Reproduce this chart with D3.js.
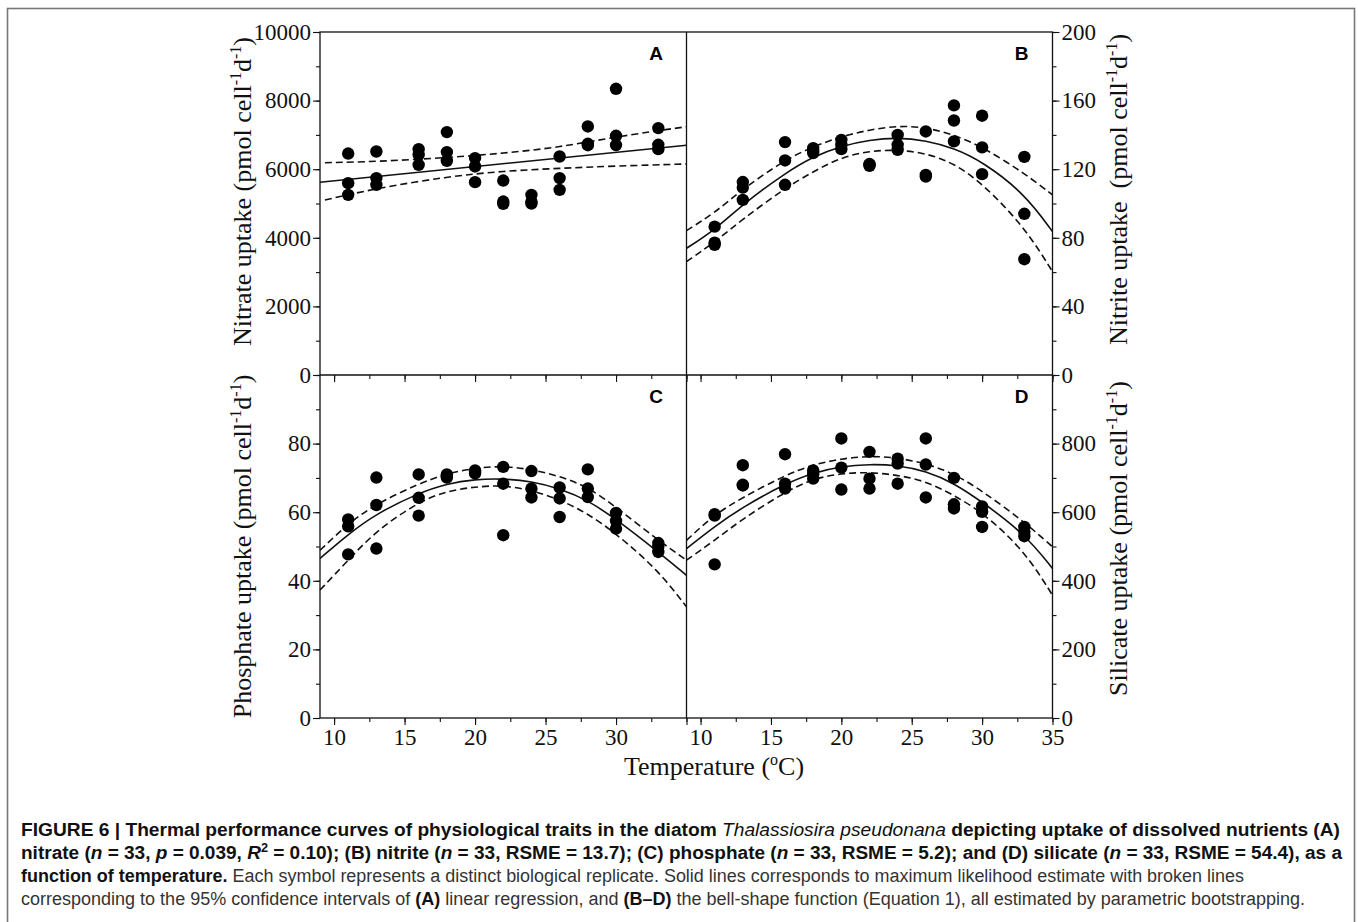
<!DOCTYPE html>
<html>
<head>
<meta charset="utf-8">
<script src="https://cdnjs.cloudflare.com/ajax/libs/d3/7.8.5/d3.min.js"></script>
<style>
    body { margin: 0; background: #fff; }
    svg { display: block; }
</style>
</head>
<body>
<div id="chart-area"></div>
<script>
// culture temperatures (oC), three replicates each
const temps = [11, 13, 16, 18, 20, 22, 24, 26, 28, 30, 33];

// replicate uptake values, one triple per temperature
const nitrate = [[6457, 5594, 5252], [6516, 5740, 5544], [6585, 6420, 6128], [7082, 6498, 6244],
    [6323, 6079, 5622], [5670, 5057, 4990], [5252, 5057, 5000], [6370, 5740, 5398],
    [7246, 6740, 6700], [8345, 6974, 6703], [7198, 6711, 6585]];
const nitrite = [[86.5, 77.2, 75.9], [112.5, 109.3, 102.1], [135.8, 125.1, 110.9], [132.3, 130.9, 129.4],
    [137.1, 134.2, 131.7], [122.6, 122.0, 123.0], [140.0, 134.2, 131.3], [142.0, 116.7, 115.7],
    [157.2, 148.4, 136.2], [151.2, 132.7, 117.1], [127.2, 94.0, 67.5]];
const phosphate = [[57.9, 55.9, 47.7], [70.1, 62.1, 49.4], [71.0, 64.2, 59.0], [71.0, 70.1, 70.5],
    [72.2, 71.3, 71.7], [73.2, 68.3, 53.3], [72.0, 66.9, 64.3], [67.2, 64.0, 58.6],
    [72.5, 66.9, 64.4], [59.8, 57.5, 55.2], [51.0, 49.9, 48.4]];
const silicate = [[594, 448, 590], [737, 678, 680], [769, 683, 669], [722, 711, 698],
    [815, 730, 666], [776, 698, 669], [756, 742, 683], [815, 739, 643],
    [700, 623, 611], [617, 601, 557], [557, 543, 530]];

// fitted lines
const nitrateFitTemps = [9, 35];
const nitrateFit = [5620, 6700];
const nitrateCiTemps = [9.35, 13, 18, 22, 26, 30, 35];
const nitrateUpper = [6190, 6220, 6336, 6463, 6638, 6948, 7239];
const nitrateLower = [5102, 5443, 5781, 5948, 6026, 6093, 6152];

const fitTemps = [9, 11, 13, 16, 18, 20, 22, 24, 26, 28, 30, 33, 35];
const nitriteFit = [73.9, 84.5, 99.6, 117.7, 127.4, 133.6, 137.1, 138.5, 136.7, 132.3, 124.5, 106, 83.6];
const nitriteUpper = [84.2, 94.5, 108.5, 125.5, 133.2, 139.1, 143, 145.3, 144.5, 140, 133.2, 117.7, 105];
const nitriteLower = [66.1, 77.5, 90.9, 109, 118.6, 127, 130.7, 131.3, 129.4, 123.5, 111.9, 86.5, 60.3];
const phosphateFit = [46.5, 53.6, 59.6, 65.6, 68.3, 69.6, 69.8, 69, 66.9, 63.5, 58, 48.4, 41.6];
const phosphateUpper = [48.9, 56.7, 62.5, 68.3, 71.3, 72.9, 73.5, 72.5, 70.5, 67.4, 61.5, 51.8, 46];
const phosphateLower = [37.3, 46, 54.7, 63, 66.2, 67.4, 67.9, 66.4, 63.7, 59.6, 53.8, 43.1, 32.4];
const silicateFit = [494, 559, 615, 683, 715, 734, 740, 737, 720, 685, 630, 538, 436];
const silicateUpper = [518, 594, 643, 708, 739, 756, 764, 759, 742, 713, 662, 572, 499];
const silicateLower = [460, 518, 581, 659, 698, 713, 717, 708, 691, 649, 601, 489, 358];

// tick labels
const xLabelsLeft = [10, 15, 20, 25, 30];
const xLabelsRight = [10, 15, 20, 25, 30, 35];
const nitrateTicks = [0, 2000, 4000, 6000, 8000, 10000];
const nitriteTicks = [0, 40, 80, 120, 160, 200];
const phosphateTicks = [0, 20, 40, 60, 80];
const silicateTicks = [0, 200, 400, 600, 800];

const serif = "'Liberation Serif', 'Times New Roman', serif";
const sans = "'Liberation Sans Narrow', 'Liberation Sans', Arial, sans-serif";

const svg = d3.select("#chart-area").append("svg")
    .attr("width", 1358)
    .attr("height", 922);

// page frame
svg.append("rect")
    .attr("x", 7.5).attr("y", 8.5)
    .attr("width", 1347).attr("height", 940)
    .attr("fill", "none")
    .attr("stroke", "#777")
    .attr("stroke-width", 1.6);

const cols = [[320, 686.5], [686.5, 1052.5]];
const rows = [[32, 375], [375, 718]];

class UptakePanel {
    constructor(parent, opts) {
        this.parent = parent;
        this.opts = opts;
        this.initVis();
    }

    initVis() {
        let vis = this;
        let o = vis.opts;

        vis.left = cols[o.col][0];
        vis.right = cols[o.col][1];
        vis.top = rows[o.row][0];
        vis.bottom = rows[o.row][1];

        vis.x = d3.scaleLinear().domain([9, 35]).range([vis.left, vis.right]);
        vis.y = d3.scaleLinear().domain(o.yDomain).range([vis.bottom, vis.top]);

        vis.g = vis.parent.append("g").attr("class", "panel-" + o.letter);

        // x axis: minor every 2.5, majors every 5
        let xMinor = d3.range(10, 35.1, 2.5);
        let xMajor = d3.range(10, 35.1, 5);
        vis.g.append("g")
            .attr("transform", "translate(0," + vis.bottom + ")")
            .call(d3.axisBottom(vis.x).tickValues(xMinor).tickSize(4).tickFormat(""))
            .call(g => g.select(".domain").remove());
        vis.g.append("g")
            .attr("class", "x-axis")
            .attr("transform", "translate(0," + vis.bottom + ")")
            .call(d3.axisBottom(vis.x).tickValues(xMajor).tickSize(7).tickPadding(4)
                .tickFormat(d => o.xLabels.includes(d) ? d : ""))
            .call(g => g.select(".domain").remove());

        // y axis on the outer side
        let yAxis = o.side === "left" ? d3.axisLeft : d3.axisRight;
        let yPos = o.side === "left" ? vis.left : vis.right;
        let yMinor = d3.range(o.yDomain[0], o.yDomain[1] + 1e-6, o.yMinor);
        vis.g.append("g")
            .attr("transform", "translate(" + yPos + ",0)")
            .call(yAxis(vis.y).tickValues(yMinor).tickSize(4).tickFormat(""))
            .call(g => g.select(".domain").remove());
        vis.g.append("g")
            .attr("class", "y-axis")
            .attr("transform", "translate(" + yPos + ",0)")
            .call(yAxis(vis.y).tickValues(o.yTicks).tickSize(7).tickPadding(2)
                .tickFormat(d3.format("d")))
            .call(g => g.select(".domain").remove());

        vis.g.selectAll(".tick line").attr("stroke", "#111").attr("stroke-width", 1.1);
        vis.g.selectAll(".tick text")
            .attr("fill", "#111")
            .style("font-family", serif)
            .style("font-size", "23px");

        vis.drawLines();
        vis.drawPoints();

        // panel letter
        vis.g.append("text")
            .attr("x", vis.left + (o.col === 0 ? 336 : 335))
            .attr("y", vis.top + 28)
            .attr("text-anchor", "middle")
            .style("font-family", "'Liberation Sans', Arial, sans-serif")
            .style("font-weight", "bold")
            .style("font-size", "19px")
            .text(o.letter);

        vis.drawTitle();
    }

    drawLines() {
        let vis = this;
        let o = vis.opts;
        let line = d3.line()
            .x(d => vis.x(d[0]))
            .y(d => vis.y(d[1]))
            .curve(d3.curveBasis);

        let series = [
            { t: o.ciTemps, v: o.upper, dash: "7,4" },
            { t: o.ciTemps, v: o.lower, dash: "7,4" },
            { t: o.fitTemps, v: o.fit, dash: null }
        ];

        series.forEach(function (s) {
            vis.g.append("path")
                .datum(s.t.map((t, i) => [t, s.v[i]]))
                .attr("d", line)
                .attr("fill", "none")
                .attr("stroke", "#111")
                .attr("stroke-width", 1.6)
                .attr("stroke-dasharray", s.dash);
        });
    }

    drawPoints() {
        let vis = this;
        let pts = [];
        temps.forEach(function (t, i) {
            vis.opts.data[i].forEach(v => pts.push({ t: t, v: v }));
        });

        vis.g.selectAll(".dot")
            .data(pts)
            .enter().append("circle")
            .attr("class", "dot")
            .attr("cx", d => vis.x(d.t))
            .attr("cy", d => vis.y(d.v))
            .attr("r", 6.2)
            .attr("fill", "#000");
    }

    drawTitle() {
        let vis = this;
        let o = vis.opts;
        let tx = o.side === "left" ? 251 : 1127;
        let ty = (vis.top + vis.bottom) / 2 + o.titleShift;

        let title = vis.g.append("text")
            .attr("transform", "translate(" + tx + "," + ty + ") rotate(-90)")
            .attr("text-anchor", "middle")
            .attr("fill", "#111")
            .style("white-space", "pre")
            .style("font-family", serif)
            .style("font-size", "26px");

        title.append("tspan").text(o.name + " uptake" + o.gap + "(pmol cell");
        title.append("tspan").attr("dy", -10).style("font-size", "16px").text("-1");
        title.append("tspan").attr("dy", 10).text("d");
        title.append("tspan").attr("dy", -10).style("font-size", "16px").text("-1");
        title.append("tspan").attr("dy", 10).text(")");
    }
}

let panelA = new UptakePanel(svg, {
    letter: "A", name: "Nitrate", col: 0, row: 0, side: "left", titleShift: -12, gap: " ",
    data: nitrate, yDomain: [0, 10000], yTicks: nitrateTicks, yMinor: 1000, xLabels: [],
    fitTemps: nitrateFitTemps, fit: nitrateFit,
    ciTemps: nitrateCiTemps, upper: nitrateUpper, lower: nitrateLower
});
let panelB = new UptakePanel(svg, {
    letter: "B", name: "Nitrite", col: 1, row: 0, side: "right", titleShift: -14, gap: "  ",
    data: nitrite, yDomain: [0, 200], yTicks: nitriteTicks, yMinor: 20, xLabels: [],
    fitTemps: fitTemps, fit: nitriteFit,
    ciTemps: fitTemps, upper: nitriteUpper, lower: nitriteLower
});
let panelC = new UptakePanel(svg, {
    letter: "C", name: "Phosphate", col: 0, row: 1, side: "left", titleShift: 0, gap: " ",
    data: phosphate, yDomain: [0, 100], yTicks: phosphateTicks, yMinor: 10, xLabels: xLabelsLeft,
    fitTemps: fitTemps, fit: phosphateFit,
    ciTemps: fitTemps, upper: phosphateUpper, lower: phosphateLower
});
let panelD = new UptakePanel(svg, {
    letter: "D", name: "Silicate", col: 1, row: 1, side: "right", titleShift: -8, gap: " ",
    data: silicate, yDomain: [0, 1000], yTicks: silicateTicks, yMinor: 100, xLabels: xLabelsRight,
    fitTemps: fitTemps, fit: silicateFit,
    ciTemps: fitTemps, upper: silicateUpper, lower: silicateLower
});

// panel frame lines
let frame = svg.append("g")
    .attr("stroke", "#111")
    .attr("stroke-width", 1.3)
    .attr("fill", "none");
frame.append("rect")
    .attr("x", cols[0][0]).attr("y", rows[0][0])
    .attr("width", cols[1][1] - cols[0][0])
    .attr("height", rows[1][1] - rows[0][0]);
frame.append("line")
    .attr("x1", cols[0][0]).attr("x2", cols[1][1])
    .attr("y1", rows[0][1]).attr("y2", rows[0][1]);
frame.append("line")
    .attr("x1", cols[0][1]).attr("x2", cols[0][1])
    .attr("y1", rows[0][0]).attr("y2", rows[1][1]);

// x axis title
let xTitle = svg.append("text")
    .attr("x", 714)
    .attr("y", 775)
    .attr("text-anchor", "middle")
    .attr("fill", "#111")
    .style("font-family", serif)
    .style("font-size", "26px");
xTitle.append("tspan").text("Temperature (");
xTitle.append("tspan").attr("dy", -10).style("font-size", "16px").text("o");
xTitle.append("tspan").attr("dy", 10).text("C)");

// caption, one entry per printed line
const captionLines = [
    { y: 836, width: 1319, parts: [
        ["FIGURE 6 | Thermal performance curves of physiological traits in the diatom ", "b"],
        ["Thalassiosira pseudonana", "i"],
        [" depicting uptake of dissolved nutrients (A)", "b"]] },
    { y: 859, width: 1321, parts: [
        ["nitrate (", "b"], ["n", "bi"], [" = 33, ", "b"], ["p", "bi"], [" = 0.039, ", "b"],
        ["R", "bi"], ["2", "sup"], [" = 0.10); (B) nitrite (", "b"], ["n", "bi"],
        [" = 33, RSME = 13.7); (C) phosphate (", "b"], ["n", "bi"],
        [" = 33, RSME = 5.2); and (D) silicate (", "b"], ["n", "bi"], [" = 33, RSME = 54.4), as a", "b"]] },
    { y: 882, width: 1223, parts: [
        ["function of temperature.", "b"],
        [" Each symbol represents a distinct biological replicate. Solid lines corresponds to maximum likelihood estimate with broken lines", "r"]] },
    { y: 905, width: 1284, parts: [
        ["corresponding to the 95% confidence intervals of ", "r"], ["(A)", "b"],
        [" linear regression, and ", "r"], ["(B–D)", "b"],
        [" the bell-shape function (Equation 1), all estimated by parametric bootstrapping.", "r"]] }
];

captionLines.forEach(function (line) {
    let t = svg.append("text")
        .attr("x", 21)
        .attr("y", line.y)
        .attr("textLength", line.width)
        .attr("lengthAdjust", "spacingAndGlyphs")
        .style("font-family", sans)
        .style("font-size", "18px");
    let shifted = false;
    line.parts.forEach(function (p) {
        let s = t.append("tspan").text(p[0]);
        let style = p[1];
        if (style === "r") {
            s.attr("fill", "#333").style("font-weight", "normal");
        } else {
            s.attr("fill", "#111").style("font-weight", style === "i" ? "normal" : "bold");
        }
        if (style === "i" || style === "bi") s.style("font-style", "italic");
        if (style === "sup") {
            s.attr("dy", -7).style("font-size", "12px").style("font-weight", "bold");
            shifted = true;
        } else if (shifted) {
            s.attr("dy", 7);
            shifted = false;
        }
    });
});
</script>
</body>
</html>
